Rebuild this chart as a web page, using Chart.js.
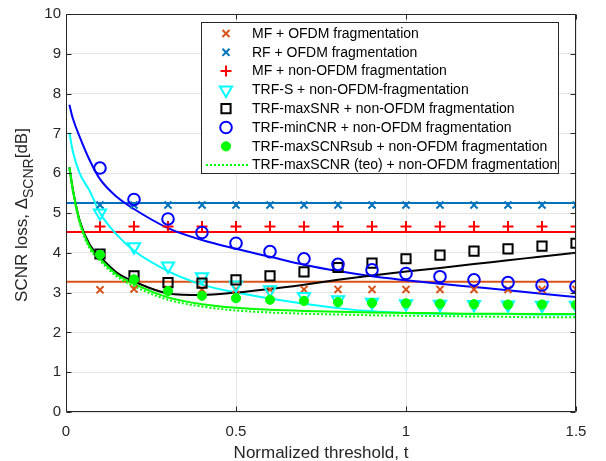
<!DOCTYPE html>
<html><head><meta charset="utf-8">
<script src="https://cdn.jsdelivr.net/npm/chart.js@4.4.1/dist/chart.umd.min.js"></script>
<style>html,body{margin:0;padding:0;background:#fff;}#wrap{width:606px;height:461px;position:relative;}</style>
</head><body><div id="wrap"><canvas id="c" width="606" height="461"></canvas></div>
<script>
// ---------- data ----------
const xTicks = [0, 0.5, 1, 1.5];
const yTicks = [0,1,2,3,4,5,6,7,8,9,10];
const tMarks = [0.1,0.2,0.3,0.4,0.5,0.6,0.7,0.8,0.9,1.0,1.1,1.2,1.3,1.4,1.5];
const mfOfdm     = [3.07,3.09,3.08,3.08,3.08,3.08,3.08,3.08,3.08,3.08,3.08,3.08,3.08,3.08,3.08];
const rfOfdm     = [5.2,5.2,5.2,5.2,5.2,5.2,5.2,5.2,5.2,5.2,5.2,5.2,5.2,5.2,5.2];
const mfNonOfdm  = [4.66,4.66,4.66,4.66,4.66,4.66,4.66,4.66,4.66,4.66,4.66,4.66,4.66,4.66,4.66];
const trfS       = [5.0,4.15,3.67,3.4,3.19,3.07,2.9,2.82,2.76,2.72,2.71,2.7,2.69,2.68,2.68];
const trfMaxSnr  = [3.97,3.42,3.25,3.24,3.32,3.42,3.52,3.63,3.74,3.85,3.94,4.04,4.1,4.17,4.24];
const trfMinCnr  = [6.13,5.34,4.85,4.51,4.24,4.03,3.85,3.71,3.57,3.48,3.4,3.32,3.25,3.19,3.15];
const trfMaxScnrSub = [3.95,3.33,3.04,2.92,2.86,2.82,2.79,2.76,2.74,2.73,2.72,2.71,2.7,2.7,2.69];

const tLevel = [0, 1.5];
const mfOfdmLevel = [3.27, 3.27];
const rfOfdmLevel = [5.25, 5.25];
const mfNonOfdmLevel = [4.52, 4.52];

const tCurve = [0.01,0.02,0.04,0.07,0.1,0.15,0.2,0.3,0.4,0.5,0.6,0.7,0.8,0.9,1.0,1.1,1.2,1.3,1.4,1.5];
const fitMinCnr = [7.72,7.38,6.92,6.32,5.85,5.4,5.1,4.62,4.32,4.1,3.9,3.7,3.54,3.41,3.31,3.22,3.14,3.06,2.97,2.89];
const fitS      = [7.02,6.55,6.0,5.55,5.0,4.45,4.05,3.54,3.2,3.0,2.85,2.72,2.61,2.53,2.49,2.47,2.46,2.46,2.45,2.45];
const fitMaxSnr = [6.15,5.6,4.82,4.2,3.9,3.5,3.28,2.98,2.94,3.0,3.09,3.2,3.32,3.43,3.53,3.62,3.72,3.81,3.91,4.0];
const fitSub    = [6.15,5.6,4.8,4.15,3.85,3.45,3.22,2.88,2.71,2.62,2.57,2.54,2.52,2.5,2.49,2.48,2.47,2.47,2.46,2.46];
const teoSub    = [6.1,5.55,4.75,4.1,3.8,3.4,3.16,2.82,2.65,2.55,2.5,2.47,2.45,2.43,2.42,2.41,2.4,2.39,2.38,2.38];

const legendLabels = [
  'MF + OFDM fragmentation',
  'RF + OFDM fragmentation',
  'MF + non-OFDM fragmentation',
  'TRF-S + non-OFDM-fragmentation',
  'TRF-maxSNR + non-OFDM fragmentation',
  'TRF-minCNR + non-OFDM fragmentation',
  'TRF-maxSCNRsub + non-OFDM fragmentation',
  'TRF-maxSCNR (teo) + non-OFDM fragmentation'
];

// ---------- styles ----------
const C_ORANGE = '#D95319', C_BLUE = '#0072BD', C_RED = '#FF0000', C_CYAN = '#00FFFF',
      C_BLACK = '#000000', C_PBLUE = '#0000FF', C_GREEN = '#00FF00', AXIS = '#262626';
const FONT = '"Liberation Sans", Arial, Helvetica, sans-serif';

const pts = (xs, ys) => xs.map((v, i) => ({x: v, y: ys[i]}));

function markerSet(label, ys, style, color, radius, fill, order, extra) {
  return Object.assign({
    label, data: pts(tMarks, ys), showLine: false,
    pointStyle: style, pointRadius: radius, pointHoverRadius: radius,
    pointBorderColor: color, pointBackgroundColor: fill || 'rgba(0,0,0,0)',
    pointBorderWidth: 2, order, legendEntry: true
  }, extra || {});
}
function lineSet(xs, ys, color, order, extra) {
  return Object.assign({
    data: pts(xs, ys), showLine: true, pointRadius: 0, pointHoverRadius: 0,
    borderColor: color, borderWidth: 2, fill: false, order,
    cubicInterpolationMode: 'monotone'
  }, extra || {});
}

const datasets = [
  markerSet(legendLabels[0], mfOfdm, 'crossRot', C_ORANGE, 5, null, 8),
  markerSet(legendLabels[1], rfOfdm, 'crossRot', C_BLUE, 5, null, 7),
  markerSet(legendLabels[2], mfNonOfdm, 'cross', C_RED, 5.5, null, 6),
  markerSet(legendLabels[3], trfS, 'triangle', C_CYAN, 7, null, 5, {pointRotation: 180}),
  markerSet(legendLabels[4], trfMaxSnr, 'rect', C_BLACK, 6.5, null, 4),
  markerSet(legendLabels[5], trfMinCnr, 'circle', C_PBLUE, 5.8, null, 3),
  markerSet(legendLabels[6], trfMaxScnrSub, 'circle', C_GREEN, 4.6, C_GREEN, 2, {pointBorderWidth: 1}),
  lineSet(tCurve, teoSub, C_GREEN, 12, {borderDash: [2, 2], label: legendLabels[7], legendEntry: true}),
  lineSet(tCurve, fitSub, C_GREEN, 11),
  lineSet(tCurve, fitMaxSnr, C_BLACK, 13),
  lineSet(tCurve, fitS, C_CYAN, 14),
  lineSet(tCurve, fitMinCnr, C_PBLUE, 15),
  lineSet(tLevel, mfNonOfdmLevel, C_RED, 16),
  lineSet(tLevel, rfOfdmLevel, C_BLUE, 17),
  lineSet(tLevel, mfOfdmLevel, C_ORANGE, 18)
];

function drawMarker(ctx, ds, x, y) {
  if (ds.showLine) {
    ctx.save();
    ctx.strokeStyle = ds.borderColor; ctx.lineWidth = ds.borderWidth;
    ctx.setLineDash(ds.borderDash || []);
    ctx.beginPath(); ctx.moveTo(x - 20, y); ctx.lineTo(x + 22, y); ctx.stroke();
    ctx.restore();
    return;
  }
  ctx.save();
  ctx.strokeStyle = ds.pointBorderColor; ctx.fillStyle = ds.pointBackgroundColor;
  ctx.lineWidth = ds.pointBorderWidth;
  if (Chart.helpers && Chart.helpers.drawPoint) {
    Chart.helpers.drawPoint(ctx, {pointStyle: ds.pointStyle, radius: ds.pointRadius,
      rotation: ds.pointRotation || 0, borderWidth: ds.pointBorderWidth}, x, y);
  }
  ctx.restore();
}

const decor = {
  id: 'decor',
  afterDraw(chart) {
    const {ctx, chartArea: a, scales: {x, y}} = chart;
    ctx.save();
    // axes box
    ctx.strokeStyle = AXIS; ctx.lineWidth = 1;
    const L = Math.round(a.left) + 0.5, R = Math.round(a.right) - 0.5,
          T = Math.round(a.top) + 0.5, B = Math.round(a.bottom) - 0.5;
    ctx.beginPath();
    ctx.rect(L, T, R - L, B - T);
    // inward ticks
    yTicks.forEach(v => {
      const py = Math.round(y.getPixelForValue(v)) + 0.5;
      ctx.moveTo(L, py); ctx.lineTo(L + 5, py);
      ctx.moveTo(R, py); ctx.lineTo(R - 5, py);
    });
    xTicks.forEach(v => {
      const px = Math.round(x.getPixelForValue(v)) + 0.5;
      ctx.moveTo(px, B); ctx.lineTo(px, B - 5);
      ctx.moveTo(px, T); ctx.lineTo(px, T + 5);
    });
    ctx.stroke();

    // x title
    ctx.fillStyle = AXIS;
    ctx.font = '17px ' + FONT;
    ctx.textAlign = 'center'; ctx.textBaseline = 'alphabetic';
    ctx.fillText('Normalized threshold, t', (a.left + a.right) / 2, 458);

    // y title with subscript
    const main = 'SCNR loss, \u0394', sub = 'SCNR', tail = '[dB]';
    ctx.font = '17px ' + FONT; const w1 = ctx.measureText(main).width;
    ctx.font = '14px ' + FONT; const w2 = ctx.measureText(sub).width;
    ctx.font = '17px ' + FONT; const w3 = ctx.measureText(tail).width;
    const total = w1 + w2 + w3;
    ctx.translate(26.5, 215 + total / 2);
    ctx.rotate(-Math.PI / 2);
    ctx.textAlign = 'left';
    ctx.font = '17px ' + FONT; ctx.fillText(main, 0, 0);
    ctx.font = '14px ' + FONT; ctx.fillText(sub, w1, 6);
    ctx.font = '17px ' + FONT; ctx.fillText(tail, w1 + w2, 0);
    ctx.setTransform(1, 0, 0, 1, 0, 0);

    // legend
    const entries = chart.data.datasets.filter(d => d.legendEntry);
    const bx = 201.5, by = 22.5, bw = 357, bh = 151;
    ctx.fillStyle = '#ffffff';
    ctx.fillRect(bx, by, bw, bh);
    ctx.strokeStyle = AXIS; ctx.lineWidth = 1;
    ctx.strokeRect(bx, by, bw, bh);
    ctx.font = '14px ' + FONT;
    ctx.textAlign = 'left'; ctx.textBaseline = 'middle';
    entries.forEach((d, i) => {
      const cy = 33.5 + i * 18.8;
      drawMarker(ctx, d, 226, cy);
      ctx.fillStyle = '#000000';
      ctx.fillText(d.label, 252, cy + 0.5);
    });
    ctx.restore();
  }
};

new Chart(document.getElementById('c'), {
  type: 'scatter',
  data: {datasets},
  options: {
    responsive: false, animation: false, devicePixelRatio: 1,
    layout: {padding: {top: 9, right: 30, left: 0, bottom: 0}},
    plugins: {legend: {display: false}, tooltip: {enabled: false}},
    elements: {line: {tension: 0.4}},
    scales: {
      x: {
        type: 'linear', min: 0, max: 1.5,
        afterBuildTicks: s => { s.ticks = xTicks.map(v => ({value: v})); },
        afterFit: s => { s.height = 49; },
        grid: {color: '#e4e4e4', lineWidth: 1, drawTicks: false},
        border: {display: false},
        ticks: {color: AXIS, font: {family: FONT, size: 15}, padding: 11,
                callback: v => String(v), maxRotation: 0}
      },
      y: {
        type: 'linear', min: 0, max: 10,
        afterBuildTicks: s => { s.ticks = yTicks.map(v => ({value: v})); },
        afterFit: s => { s.width = 66; },
        grid: {color: '#e4e4e4', lineWidth: 1, drawTicks: false},
        border: {display: false},
        ticks: {color: AXIS, font: {family: FONT, size: 15}, padding: 5,
                callback: v => String(v)}
      }
    }
  },
  plugins: [decor]
});
</script>
</body></html>
